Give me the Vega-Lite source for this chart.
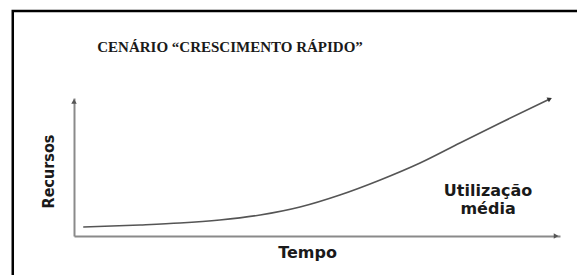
{
  "$schema": "https://vega.github.io/schema/vega-lite/v6.json",
  "width": 486,
  "height": 138,
  "autosize": {"type": "none"},
  "padding": {"left": 74, "top": 98, "right": 17, "bottom": 39},
  "background": "white",
  "config": {"view": {"stroke": null}},
  "datasets": {
    "curve": [
      {"t": 1.9, "r": 6.5},
      {"t": 13.6, "r": 8.0},
      {"t": 21.8, "r": 9.4},
      {"t": 30.0, "r": 11.6},
      {"t": 38.3, "r": 15.2},
      {"t": 46.5, "r": 21.0},
      {"t": 54.7, "r": 29.7},
      {"t": 63.0, "r": 40.6},
      {"t": 71.2, "r": 52.9},
      {"t": 79.4, "r": 67.4},
      {"t": 87.7, "r": 81.9},
      {"t": 97.9, "r": 99.3}
    ],
    "label": [
      {"t": 85.2, "r": 38.5, "text": "Utilização\nmédia"}
    ],
    "title": [
      {"t": 32.1, "r": 133.3, "text": "CENÁRIO “CRESCIMENTO RÁPIDO”"}
    ]
  },
  "layer": [
    {
      "data": {"name": "curve"},
      "mark": {"type": "line", "color": "#555555", "strokeWidth": 1.6, "interpolate": "monotone", "clip": false},
      "encoding": {
        "x": {
          "field": "t", "type": "quantitative",
          "scale": {"domain": [0, 100], "nice": false, "zero": false},
          "axis": {
            "title": "Tempo", "domain": true, "domainColor": "#8a8a8a", "domainWidth": 2,
            "ticks": false, "labels": false, "grid": false,
            "titleFont": "DejaVu Sans", "titleFontSize": 16, "titleFontWeight": "bold",
            "titleColor": "#1a1a1a", "titlePadding": 8, "titleX": 233
          }
        },
        "y": {
          "field": "r", "type": "quantitative",
          "scale": {"domain": [0, 100], "nice": false, "zero": false},
          "axis": {
            "title": "Recursos", "domain": true, "domainColor": "#8a8a8a", "domainWidth": 2,
            "ticks": false, "labels": false, "grid": false,
            "titleFont": "Liberation Sans Narrow, DejaVu Sans Condensed, sans-serif", "titleFontSize": 16, "titleFontWeight": "bold",
            "titleColor": "#1a1a1a", "titlePadding": 18, "titleY": 73
          }
        }
      }
    },
    {
      "data": {"values": [{}]},
      "mark": {"type": "rect", "fill": "transparent", "stroke": "black", "strokeWidth": 2.5, "clip": false},
      "encoding": {
        "x": {"datum": -12.6, "type": "quantitative", "scale": {"domain": [0, 100], "nice": false, "zero": false}},
        "x2": {"datum": 110},
        "y": {"datum": 163, "type": "quantitative", "scale": {"domain": [0, 100], "nice": false, "zero": false}},
        "y2": {"datum": -45}
      }
    },
    {
      "data": {"values": [{}]},
      "mark": {"type": "point", "shape": "triangle-up", "filled": true, "color": "#555555", "size": 30, "opacity": 1, "clip": false},
      "encoding": {
        "x": {"datum": 0, "type": "quantitative", "scale": {"domain": [0, 100], "nice": false, "zero": false}},
        "y": {"datum": 97.5, "type": "quantitative", "scale": {"domain": [0, 100], "nice": false, "zero": false}}
      }
    },
    {
      "data": {"values": [{}]},
      "mark": {"type": "point", "shape": "triangle-right", "filled": true, "color": "#555555", "size": 30, "opacity": 1, "clip": false},
      "encoding": {
        "x": {"datum": 99.2, "type": "quantitative", "scale": {"domain": [0, 100], "nice": false, "zero": false}},
        "y": {"datum": 0, "type": "quantitative", "scale": {"domain": [0, 100], "nice": false, "zero": false}}
      }
    },
    {
      "data": {"values": [{}]},
      "mark": {"type": "point", "shape": "triangle-right", "filled": true, "color": "#333333", "size": 28, "opacity": 1, "angle": 334, "clip": false},
      "encoding": {
        "x": {"datum": 97.9, "type": "quantitative", "scale": {"domain": [0, 100], "nice": false, "zero": false}},
        "y": {"datum": 99.3, "type": "quantitative", "scale": {"domain": [0, 100], "nice": false, "zero": false}}
      }
    },
    {
      "data": {"name": "label"},
      "mark": {"type": "text", "font": "DejaVu Sans", "fontSize": 16, "fontWeight": "bold", "color": "#1a1a1a", "align": "center", "baseline": "top", "lineHeight": 18, "lineBreak": "\n", "clip": false},
      "encoding": {
        "x": {"field": "t", "type": "quantitative", "scale": {"domain": [0, 100], "nice": false, "zero": false}},
        "y": {"field": "r", "type": "quantitative", "scale": {"domain": [0, 100], "nice": false, "zero": false}},
        "text": {"field": "text"}
      }
    },
    {
      "data": {"name": "title"},
      "mark": {"type": "text", "font": "Liberation Serif", "fontSize": 15, "fontWeight": "bold", "color": "#1a1a1a", "align": "center", "baseline": "alphabetic", "clip": false},
      "encoding": {
        "x": {"field": "t", "type": "quantitative", "scale": {"domain": [0, 100], "nice": false, "zero": false}},
        "y": {"field": "r", "type": "quantitative", "scale": {"domain": [0, 100], "nice": false, "zero": false}},
        "text": {"field": "text"}
      }
    }
  ]
}
